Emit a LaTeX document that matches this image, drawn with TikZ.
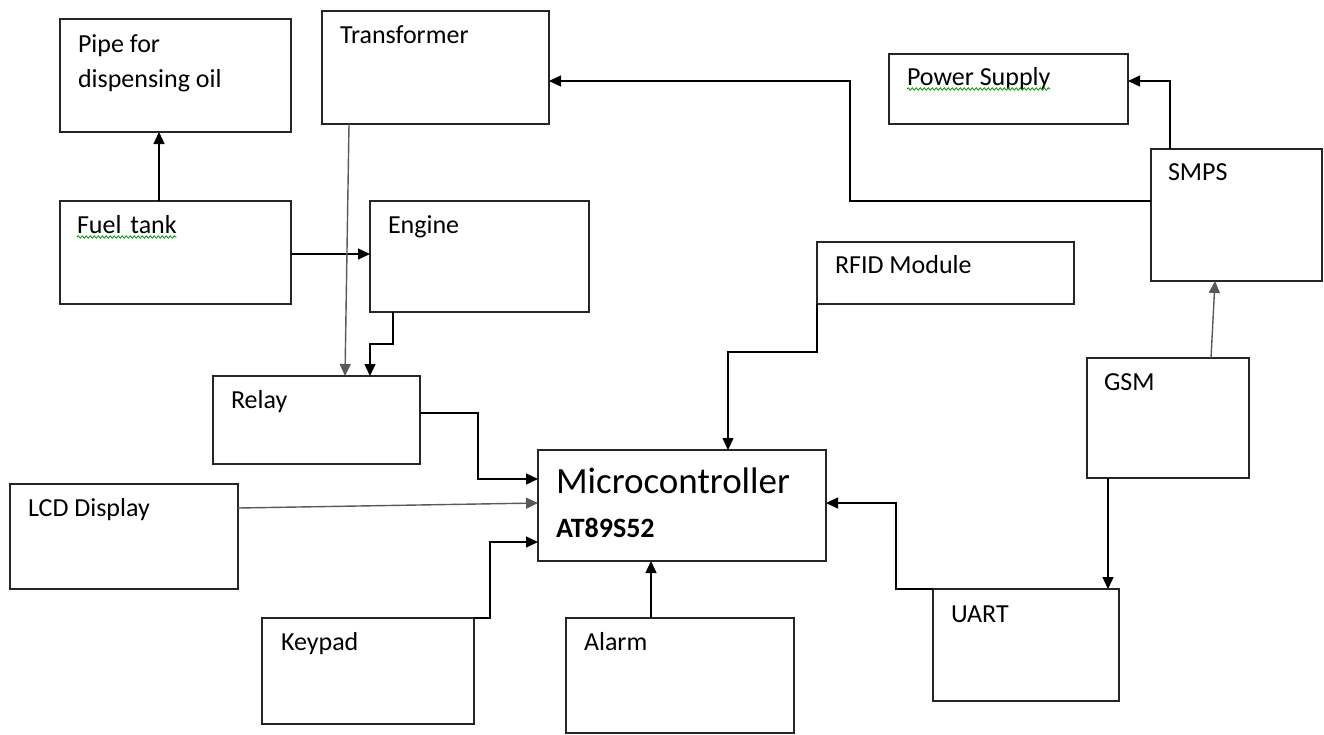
\documentclass[tikz,border=0pt]{standalone}
\usepackage{fontspec}
\setmainfont{Carlito}
\usetikzlibrary{arrows.meta,decorations.pathmorphing}
\begin{document}
\begin{tikzpicture}[x=1pt,y=-1pt,
  box/.style={draw=black!85,line width=1.4pt,inner sep=0pt,outer sep=0pt,anchor=north west},
  lbl/.style={anchor=base west,inner sep=0pt,outer sep=0pt,text=black,font=\fontsize{26}{30}\selectfont},
  conn/.style={draw=black,line width=1.4pt,-{Triangle[length=12pt,width=11pt]}},
  gconn/.style={conn,draw=black!65},
  squig/.style={draw=green!60!black,line width=0.8pt,decorate,decoration={snake,amplitude=1.2pt,segment length=4pt}}]
\useasboundingbox[fill=white] (0,0) rectangle (1324,734);
% boxes
\node[box,minimum width=231pt,minimum height=113pt] (pipe)   at (60,19)   {};
\node[box,minimum width=231pt,minimum height=103pt] (fuel)   at (60,201)  {};
\node[box,minimum width=227pt,minimum height=113pt] (trans)  at (322,11)  {};
\node[box,minimum width=219pt,minimum height=111pt] (engine) at (370,201) {};
\node[box,minimum width=239pt,minimum height=70pt]  (power)  at (889,54)  {};
\node[box,minimum width=171pt,minimum height=132pt] (smps)   at (1151,149){};
\node[box,minimum width=257pt,minimum height=62pt]  (rfid)   at (817,242) {};
\node[box,minimum width=207pt,minimum height=88pt]  (relay)  at (213,376) {};
\node[box,minimum width=228pt,minimum height=105pt] (lcd)    at (10,484)  {};
\node[box,minimum width=212pt,minimum height=106pt] (keypad) at (262,618) {};
\node[box,minimum width=288pt,minimum height=111pt] (micro)  at (538,450) {};
\node[box,minimum width=228pt,minimum height=115pt] (alarm)  at (566,618) {};
\node[box,minimum width=162pt,minimum height=120pt] (gsm)    at (1087,358){};
\node[box,minimum width=186pt,minimum height=112pt] (uart)   at (933,589) {};
% labels
\node[lbl] (tpipeA)  at (78,52)   {Pipe for};
\node[lbl] (tpipeB)  at (78,87)   {dispensing oil};
\node[lbl] (ttrans)  at (340,43)  {Transformer};
\node[lbl] (tfuel)   at (77,233)  {Fuel\kern3pt{} tank};
\node[lbl] (tengine) at (388,233) {Engine};
\node[lbl] (tpower)  at (907,85)  {Power Supply};
\node[lbl] (tsmps)   at (1168,180){SMPS};
\node[lbl] (trfid)   at (835,273) {RFID Module};
\node[lbl] (trelay)  at (231,408) {Relay};
\node[lbl] (tlcd)    at (28,516)  {LCD Display};
\node[lbl] (tkeypad) at (281,650) {Keypad};
\node[lbl,font=\fontsize{37}{40}\selectfont] (tmicro) at (556,493) {Microcontroller};
\node[lbl,font=\fontsize{28}{30}\selectfont\bfseries] (tat) at (556,537) {AT89S52};
\node[lbl] (talarm)  at (584,650) {Alarm};
\node[lbl] (tgsm)    at (1104,390){GSM};
\node[lbl] (tuart)   at (951,622) {UART};
% spell-check squiggles
\draw[squig] ([yshift=-4pt]tfuel.base west) -- ([yshift=-4pt]tfuel.base east);
\draw[squig] ([yshift=-4pt]tpower.base west) -- ([yshift=-4pt]tpower.base east);
% connectors
\draw[conn] ([xshift=99pt]fuel.north west) -- ([xshift=99pt]pipe.south west);
\draw[conn] ([yshift=-53pt]fuel.north east) -- ([yshift=-53pt]engine.north west);
\draw[gconn] ([xshift=27pt]trans.south west) -- ([xshift=132pt]relay.north west);
\draw[conn] ([xshift=23pt]engine.south west) -- ++(0,32) -| ([xshift=157pt]relay.north west);
\draw[conn] ([yshift=-52pt]smps.north west) -- ++(-301,0) |- ([yshift=-70pt]trans.north east);
\draw[conn] ([xshift=19pt]smps.north west) |- ([yshift=-27pt]power.north east);
\draw[gconn] ([xshift=124pt]gsm.north west) -- ([xshift=64pt]smps.south west);
\draw[conn] ([xshift=21pt]gsm.south west) -- ([xshift=175pt]uart.north west);
\draw[conn] (uart.north west) -- ++(-37,0) |- ([yshift=-53pt]micro.north east);
\draw[conn] (rfid.south west) -- ++(0,48) -| ([xshift=190pt]micro.north west);
\draw[conn] ([yshift=-37pt]relay.north east) -- ++(58,0) |- ([yshift=-29pt]micro.north west);
\draw[gconn] ([yshift=-24pt]lcd.north east) -- ([yshift=-53pt]micro.north west);
\draw[conn] (keypad.north east) -- ++(16,0) |- ([yshift=-92pt]micro.north west);
\draw[conn] ([xshift=85pt]alarm.north west) -- ([xshift=113pt]micro.south west);
\end{tikzpicture}
\end{document}
